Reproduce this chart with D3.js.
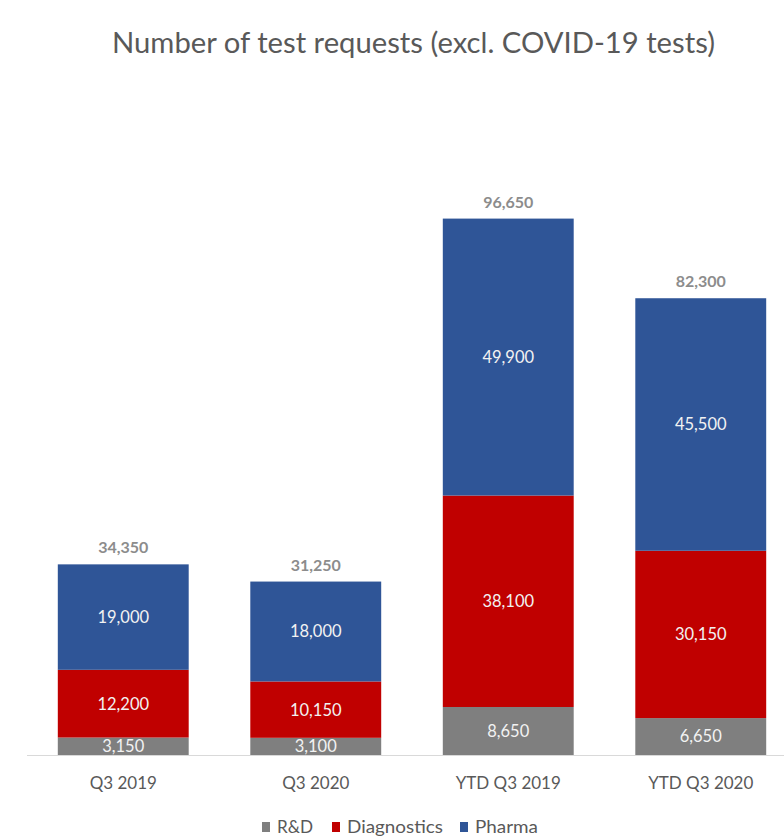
<!DOCTYPE html>
<html>
<head>
<meta charset="utf-8">
<script src="https://cdn.jsdelivr.net/npm/d3@7/dist/d3.min.js"></script>
<style>
  html, body { margin: 0; padding: 0; background: #ffffff; }
  svg { display: block; }
  text { font-family: Lato, "Open Sans", "Noto Sans", sans-serif; }
</style>
</head>
<body>
<svg id="chart" width="784" height="836"></svg>
<script>
const categories = ["Q3 2019", "Q3 2020", "YTD Q3 2019", "YTD Q3 2020"];
const seriesNames = ["R&D", "Diagnostics", "Pharma"];
const rdValues = [3150, 3100, 8650, 6650];
const diagnosticsValues = [12200, 10150, 38100, 30150];
const pharmaValues = [19000, 18000, 49900, 45500];
const seriesColors = ["#7f7f7f", "#c00000", "#2f5597"];

const title = "Number of test requests (excl. COVID-19 tests)";

const rows = categories.map((c, i) => ({
  category: c,
  "R&D": rdValues[i],
  "Diagnostics": diagnosticsValues[i],
  "Pharma": pharmaValues[i]
}));

const svg = d3.select("#chart");
const fmt = d3.format(",");

const x = d3.scaleBand()
  .domain(categories)
  .range([27, 797])
  .paddingInner(0.32)
  .paddingOuter(0.16);

const y = d3.scaleLinear()
  .domain([0, 100000])
  .range([755, 200]);

const stack = d3.stack().keys(seriesNames);
const stacked = stack(rows);
const color = d3.scaleOrdinal().domain(seriesNames).range(seriesColors);

// Title
svg.append("text")
  .attr("x", 112)
  .attr("y", 53)
  .attr("font-size", 28.5)
  .attr("fill", "#595959")
  .attr("textLength", 603)
  .attr("lengthAdjust", "spacingAndGlyphs")
  .text(title);

// Bars
const layers = svg.append("g").selectAll("g")
  .data(stacked)
  .join("g")
  .attr("fill", d => color(d.key));

layers.selectAll("rect")
  .data(d => d.map(v => ({ key: d.key, v })))
  .join("rect")
  .attr("x", d => x(d.v.data.category))
  .attr("y", d => y(d.v[1]))
  .attr("width", x.bandwidth())
  .attr("height", d => y(d.v[0]) - y(d.v[1]));

// Segment labels
layers.selectAll("text")
  .data(d => d.map(v => ({ key: d.key, v })))
  .join("text")
  .attr("x", d => x(d.v.data.category) + x.bandwidth() / 2)
  .attr("y", d => (y(d.v[0]) + y(d.v[1])) / 2)
  .attr("dy", "0.36em")
  .attr("text-anchor", "middle")
  .attr("font-size", 16.5)
  .attr("fill", "#f2f2f2")
  .text(d => fmt(d.v[1] - d.v[0]));

// Axis line
const xAxis = d3.axisBottom(x).tickSize(0).tickPadding(22);
const axisG = svg.append("g")
  .attr("transform", "translate(0,755)")
  .call(xAxis);
axisG.select(".domain").attr("stroke", "#d9d9d9").attr("stroke-width", 1.2)
  .attr("d", "M27,0.5H784");
axisG.selectAll(".tick text")
  .attr("font-size", 17)
  .attr("fill", "#595959")
  .attr("font-family", "Lato, 'Open Sans', sans-serif");

// Totals
const totals = rows.map(r => ({ category: r.category, total: seriesNames.reduce((s, k) => s + r[k], 0) }));
svg.append("g").selectAll("text")
  .data(totals)
  .join("text")
  .attr("x", d => x(d.category) + x.bandwidth() / 2)
  .attr("y", d => y(d.total) - 11)
  .attr("text-anchor", "middle")
  .attr("font-size", 16)
  .attr("font-weight", "bold")
  .attr("fill", "#8c8c8c")
  .text(d => fmt(d.total));

// Legend
const legendItems = [
  { name: "R&D", x: 262, w: 36 },
  { name: "Diagnostics", x: 332, w: 96 },
  { name: "Pharma", x: 460, w: 63 }
];
const legend = svg.append("g");
legendItems.forEach((it, i) => {
  legend.append("rect")
    .attr("x", it.x)
    .attr("y", 822)
    .attr("width", 8)
    .attr("height", 10)
    .attr("fill", seriesColors[i]);
  legend.append("text")
    .attr("x", it.x + 15)
    .attr("y", 827)
    .attr("dy", "0.36em")
    .attr("font-size", 17)
    .attr("fill", "#595959")
    .attr("textLength", it.w)
    .attr("lengthAdjust", "spacingAndGlyphs")
    .text(it.name);
});
</script>
</body>
</html>
